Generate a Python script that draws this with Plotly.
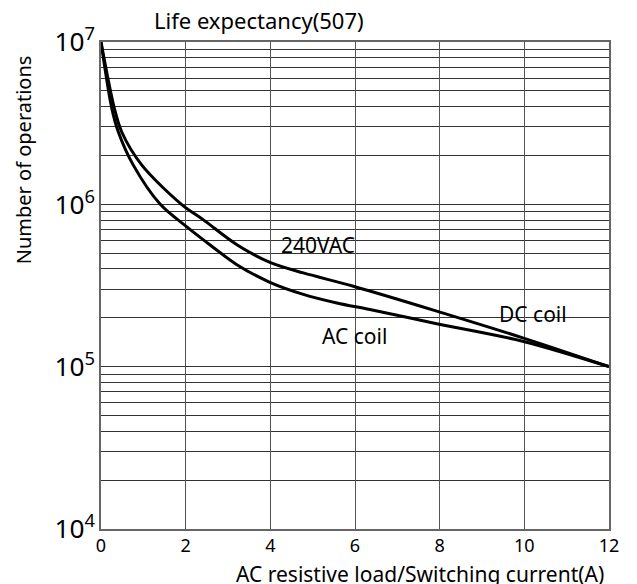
import plotly.graph_objects as go

# Data
current_dc = [0, 0.31, 0.49, 0.96, 1.9, 2.42, 3.21, 3.99, 4.78, 5.96, 7.93, 9.98, 12]
ops_dc = [1e7, 3.96e6, 2.79e6, 1.75e6, 1.0e6, 8.02e5, 5.64e5, 4.39e5, 3.78e5, 3.13e5, 2.20e5, 1.50e5, 1e5]

current_ac = [0, 0.25, 0.41, 0.76, 1.4, 2.02, 2.42, 3.21, 3.99, 4.78, 5.57, 6.35, 7.93, 9.98, 12]
ops_ac = [1e7, 3.96e6, 2.79e6, 1.75e6, 1.0e6, 7.29e5, 6.04e5, 4.25e5, 3.31e5, 2.79e5, 2.47e5, 2.25e5, 1.84e5, 1.43e5, 1e5]

x_ticks = [0, 2, 4, 6, 8, 10, 12]

FONT = "Noto Sans"

# page body has an 8px margin; plot area in page pixels: x 101..609, y 39..529
OFF = 8
W, H = 637 - OFF, 584 - OFF
L, R, T, B = 101 - OFF, 28, 39 - OFF, 55
PW, PH = W - L - R, H - T - B


def px_x(px):
    return (px - 101) / PW


def px_y(py):
    return (529 - py) / PH


fig = go.Figure()
for xs, ys in [(current_dc, ops_dc), (current_ac, ops_ac)]:
    fig.add_trace(go.Scatter(x=xs, y=ys, mode="lines",
                             line=dict(color="black", width=3, shape="spline", smoothing=0.9),
                             showlegend=False, hoverinfo="skip"))

fig.add_annotation(x=5.13, y=5.75, text="240VAC", showarrow=False,
                   font=dict(family=FONT, size=21, color="black"))
fig.add_annotation(x=5.98, y=5.189, text="AC coil", showarrow=False,
                   font=dict(family=FONT, size=21, color="black"))
fig.add_annotation(x=10.2, y=5.324, text="DC coil", showarrow=False,
                   font=dict(family=FONT, size=21, color="black"))

# Title and axis titles as paper annotations
fig.add_annotation(xref="paper", yref="paper", x=px_x(152), y=px_y(17),
                   xanchor="left", yanchor="middle", text="Life expectancy(507)",
                   showarrow=False, font=dict(family=FONT, size=22, color="black"))
fig.add_annotation(xref="paper", yref="paper", x=px_x(420), y=px_y(574),
                   xanchor="center", yanchor="middle",
                   text="AC resistive load/Switching current(A)",
                   showarrow=False, font=dict(family=FONT, size=21, color="black"))
fig.add_annotation(xref="paper", yref="paper", x=px_x(23), y=px_y(158),
                   xanchor="center", yanchor="middle", textangle=-90,
                   text="Number of operations",
                   showarrow=False, font=dict(family=FONT, size=20, color="black"))

fig.update_layout(
    width=W, height=H,
    margin=dict(l=L, r=R, t=T, b=B),
    paper_bgcolor="white", plot_bgcolor="white",
    font=dict(family=FONT, color="black"),
    xaxis=dict(range=[0, 12], tickvals=x_ticks, ticktext=[str(v) for v in x_ticks],
               showgrid=True, gridcolor="#555", gridwidth=1.2,
               showline=True, mirror=True, linecolor="#666", linewidth=1.5,
               zeroline=False, ticks="", tickfont=dict(family=FONT, size=18, color="black")),
    yaxis=dict(type="log", range=[4, 7], dtick=1, exponentformat="power",
               showgrid=True, gridcolor="#333", gridwidth=1,
               minor=dict(dtick="D1", showgrid=True, gridcolor="#333", gridwidth=1, ticks=""),
               showline=True, mirror=True, linecolor="#666", linewidth=1.5,
               zeroline=False, ticks="", tickfont=dict(family=FONT, size=21, color="black")),
)

fig.write_html("out.html")
